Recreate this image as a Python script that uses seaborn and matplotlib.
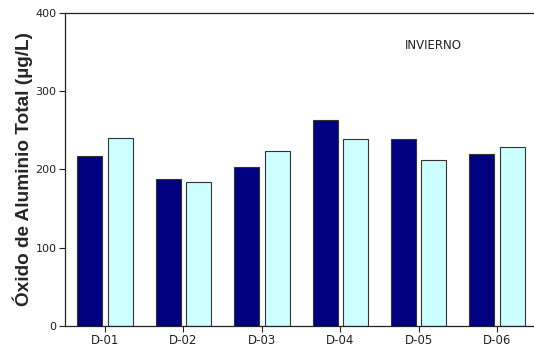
import matplotlib
matplotlib.use("Agg")
import matplotlib.pyplot as plt
import seaborn as sns
import pandas as pd

# Sampling stations and total aluminium oxide values for the two series
stations = ["D-01", "D-02", "D-03", "D-04", "D-05", "D-06"]
series_a = [217, 188, 203, 263, 239, 220]
series_b = [240, 184, 224, 239, 212, 229]
series_names = ["A", "B"]
y_ticks = [0, 100, 200, 300, 400]

df = pd.DataFrame({
    "station": stations * 2,
    "value": series_a + series_b,
    "series": [series_names[0]] * len(stations) + [series_names[1]] * len(stations),
})

sns.set_style("white")
plt.rcParams["font.family"] = ["DejaVu Sans"]

fig = plt.figure(figsize=(5.34, 3.49), dpi=100)
ax = fig.add_axes([0.1217, 0.0659, 0.8783, 0.8969])

sns.barplot(
    data=df, x="station", y="value", hue="series",
    palette=["#000080", "#CCFFFF"], saturation=1, width=0.776, gap=0.18,
    edgecolor="#333333", linewidth=0.8, legend=False, ax=ax,
)

ax.set_xlim(-0.51, 5.47)
ax.set_ylim(0, 400)
ax.set_yticks(y_ticks)
ax.set_yticklabels([str(t) for t in y_ticks], fontsize=8, color="#222222")
ax.set_xticks(range(len(stations)))
ax.set_xticklabels(stations, fontsize=8.5, color="#222222")
ax.set_xlabel("")
ax.set_ylabel("Óxido de Aluminio Total (µg/L)", fontsize=13.7, fontweight="bold",
              family=["Liberation Sans", "DejaVu Sans"], labelpad=2)

for side in ["left", "bottom", "top"]:
    ax.spines[side].set_visible(True)
    ax.spines[side].set_color("#222222")
    ax.spines[side].set_linewidth(0.9)
ax.spines["right"].set_visible(False)

ax.tick_params(axis="both", which="major", direction="out", length=4, width=0.8,
               color="#222222", left=True, bottom=True, pad=2)

ax.text(0.725, 0.895, "INVIERNO", transform=ax.transAxes, fontsize=8.5,
        color="#222222", ha="left", va="center")

fig.savefig("out.png", dpi=100)
